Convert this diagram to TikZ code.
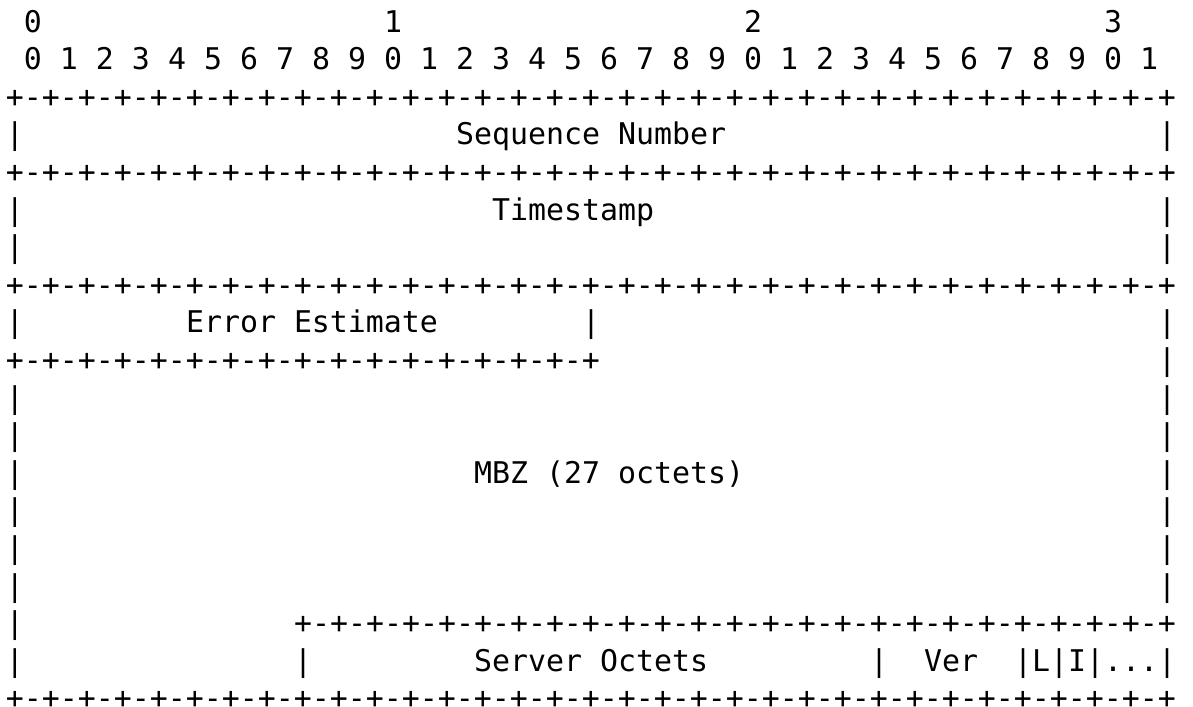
\documentclass[tikz,border=0pt]{standalone}
\usepackage{fontspec}
\setmonofont{DejaVu Sans Mono}
\usepackage{tikz}

% one character cell is 9pt wide, one line is 18.8pt high
\newcommand{\asciifont}{\ttfamily\fontsize{14.95pt}{18.8pt}\selectfont}
\newcommand{\plusrun}[1]{+\foreach \i in {1,...,#1}{-+}}

\tikzset{
  ascii/.style={anchor=base west,inner sep=0pt,outer sep=0pt,font=\asciifont},
}

\begin{document}
\begin{tikzpicture}[x=9pt,y=-18.8pt]
\path[fill=white] (-0.3333,0.1463) rectangle (65.944,18.949);
\useasboundingbox (-0.3333,0.1463) rectangle (65.944,18.949);

% bit ruler
\node (tens0) at (1,1) [ascii] {0};
\node (tens1) at (21,1) [ascii] {1};
\node (tens2) at (41,1) [ascii] {2};
\node (tens3) at (61,1) [ascii] {3};
\foreach \b in {0,...,31}{
  \pgfmathtruncatemacro{\d}{mod(\b,10)}
  \node (bit\b) at (2*\b+1,2) [ascii] {\d};
}

% full borders
\node (rule3) at (0,3) [ascii] {\plusrun{32}};
\node (rule5) at (0,5) [ascii] {\plusrun{32}};
\node (rule8) at (0,8) [ascii] {\plusrun{32}};
\node (rule19) at (0,19) [ascii] {\plusrun{32}};
% partial borders
\node (rule10) at (0,10) [ascii] {\plusrun{16}};
\node (rule17) at (16,17) [ascii] {\plusrun{24}};

% side bars
\foreach \r in {4,6,7,9,11,12,13,14,15,16,17,18}
  \node (left\r) at (0,\r) [ascii] {|};
\foreach \r in {4,6,7,9,10,11,12,13,14,15,16}
  \node (right\r) at (64,\r) [ascii] {|};

% fields
\node (seq) at (25,4) [ascii] {Sequence Number};
\node (stamp) at (27,6) [ascii] {Timestamp};
\node (err) at (10,9) [ascii] {Error Estimate};
\node (errR) at (32,9) [ascii] {|};
\node (mbz) at (26,13) [ascii] {MBZ (27 octets)};
\node (srvL) at (16,18) [ascii] {|};
\node (srv) at (26,18) [ascii] {Server Octets};
\node (srvR) at (48,18) [ascii] {|};
\node (ver) at (51,18) [ascii] {Ver};
\node (flags) at (56,18) [ascii] {|L|I|...|};
\end{tikzpicture}
\end{document}
